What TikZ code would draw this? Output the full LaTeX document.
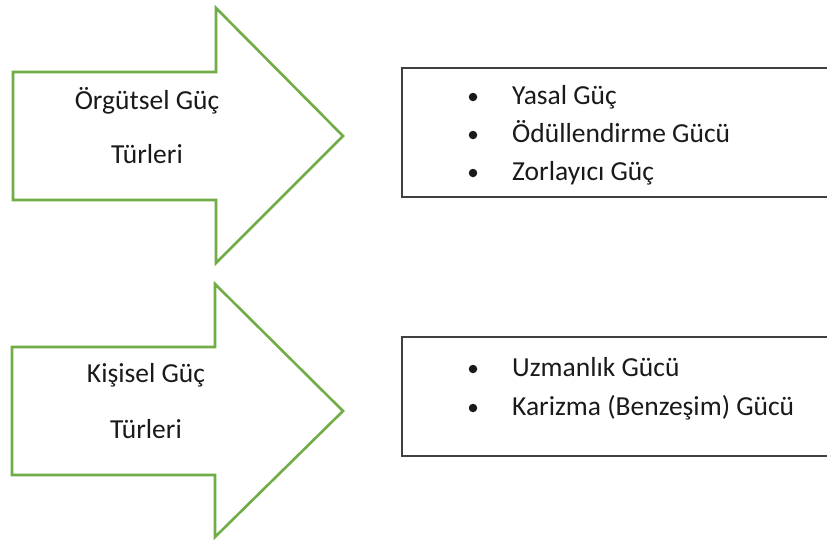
\documentclass[tikz,border=0pt]{standalone}
\usepackage{fontspec}
\setmainfont{Carlito}
\definecolor{arrowgreen}{HTML}{70AD47}
\definecolor{boxgray}{HTML}{404040}
\definecolor{txt}{HTML}{1A1A1A}
\begin{document}
\begin{tikzpicture}[x=1pt,y=-1pt,
  bigarrow/.style={draw=arrowgreen,line width=2.6pt,line join=miter,fill=white},
  listbox/.style={draw=boxgray,line width=1.3pt,fill=white},
  lbl/.style={anchor=base,inner sep=0pt,text=txt,font=\fontsize{27.5}{33}\selectfont},
  item/.style={anchor=base west,inner sep=0pt,text=txt,font=\fontsize{27.5}{33}\selectfont},
  bul/.style={circle,fill=txt,inner sep=0pt,minimum size=8.5pt}]
\useasboundingbox (0,0) rectangle (827,542);
% arrow 1
\draw[bigarrow] (13,72) -- (216,72) -- (216,8) -- (343,136) -- (216,263) -- (216,200) -- (13,200) -- cycle;
\node[lbl] (a1l1) at (147,109) {Örgütsel Güç};
\node[lbl] (a1l2) at (147,163) {Türleri};
% arrow 2
\draw[bigarrow] (12,347) -- (215,347) -- (215,284) -- (343,411) -- (215,537) -- (215,475) -- (12,475) -- cycle;
\node[lbl] (a2l1) at (146,382) {Kişisel Güç};
\node[lbl] (a2l2) at (146,438) {Türleri};
% box 1
\draw[listbox] (402,68) rectangle (840,197);
\node[bul] (b1) at (473,97) {};
\node[item] (t1) at (512,104) {Yasal Güç};
\node[bul] (b2) at (473,135) {};
\node[item] (t2) at (512,142) {Ödüllendirme Gücü};
\node[bul] (b3) at (473,173) {};
\node[item] (t3) at (512,180) {Zorlayıcı Güç};
% box 2
\draw[listbox] (402,337) rectangle (840,456);
\node[bul] (b4) at (473,369) {};
\node[item] (t4) at (512,376) {Uzmanlık Gücü};
\node[bul] (b5) at (473,408) {};
\node[item] (t5) at (512,415) {Karizma (Benzeşim) Gücü};
\end{tikzpicture}
\end{document}
